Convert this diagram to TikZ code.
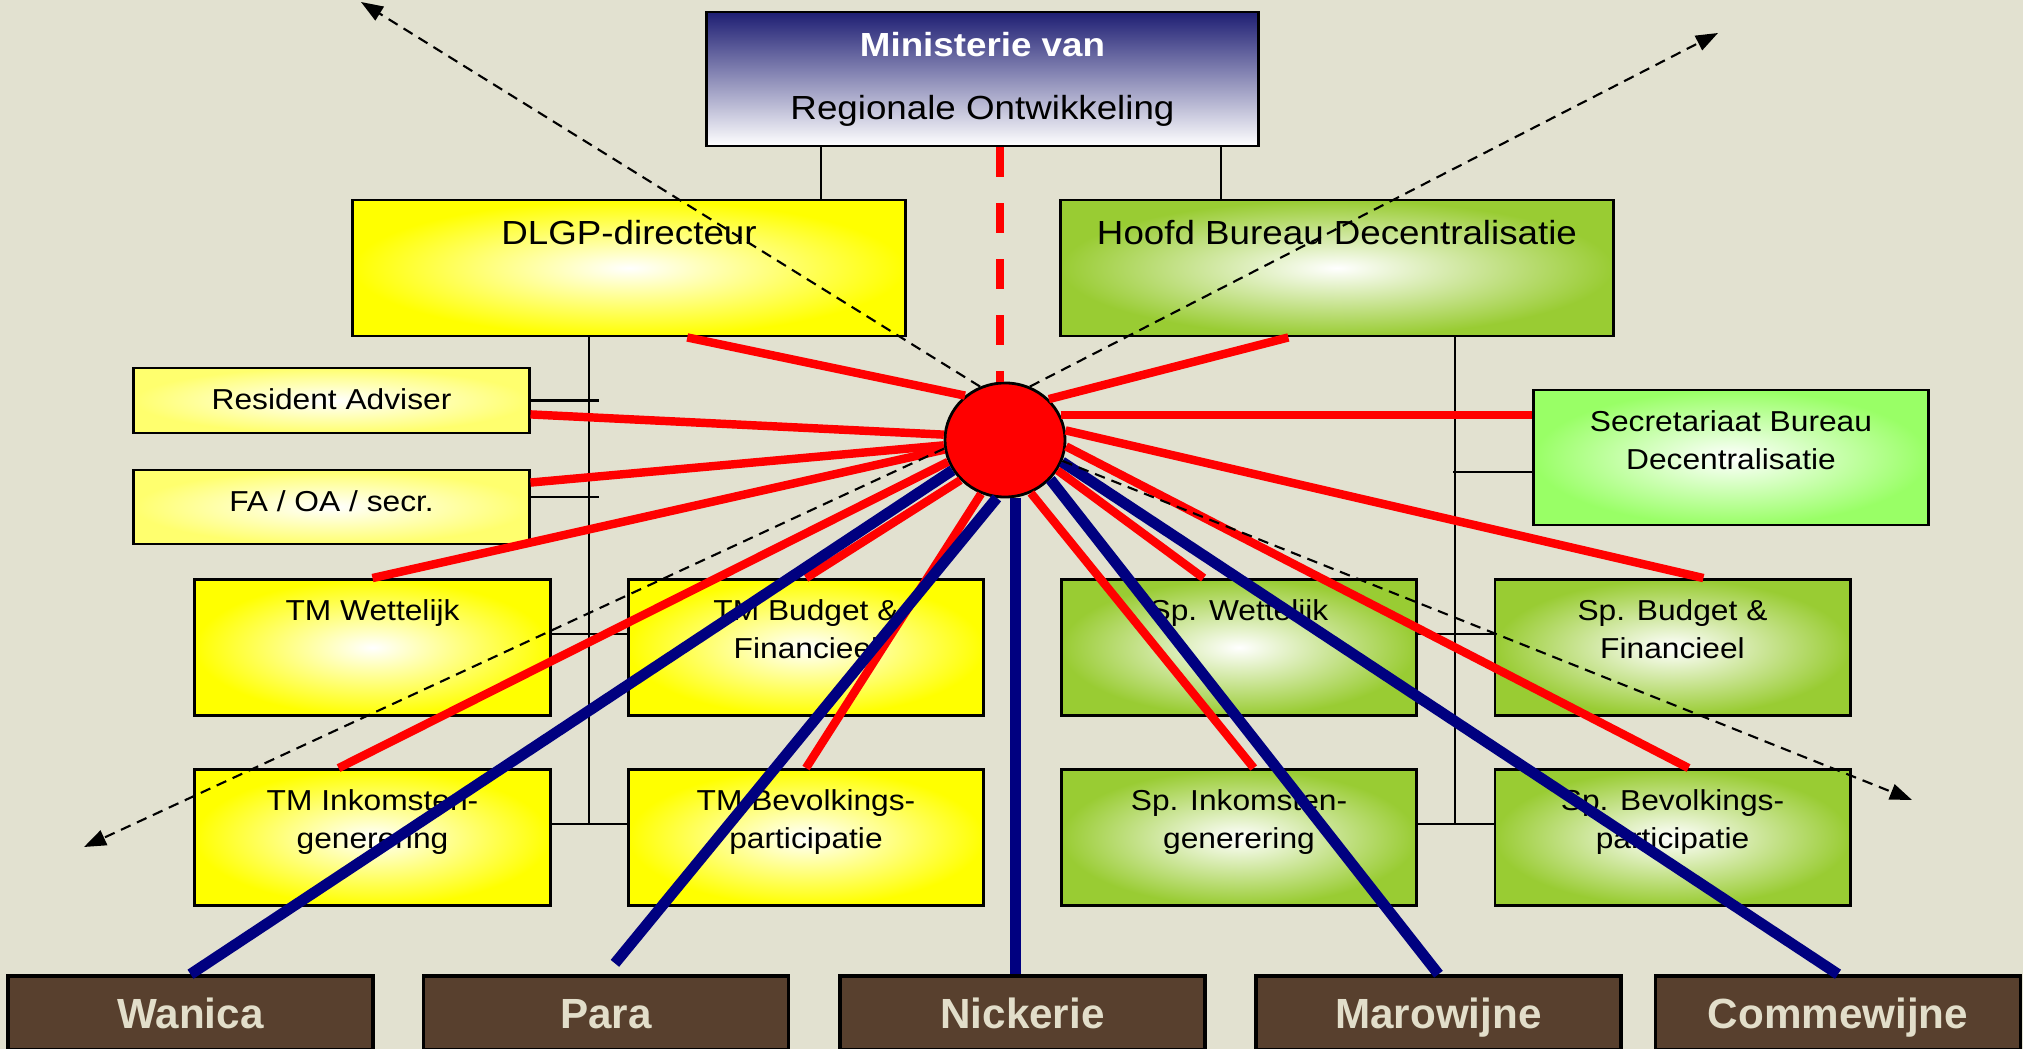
\documentclass[tikz,border=0pt]{standalone}
\usepackage{fontspec}
\setmainfont{Liberation Sans}[FakeStretch=1.1]
\newfontfamily\distfont{Liberation Sans}
\usetikzlibrary{positioning,shapes.geometric,arrows.meta}
\definecolor{bg}{RGB}{226,225,208}
\definecolor{mgreen}{RGB}{153,204,51}
\definecolor{lgreen}{RGB}{153,255,102}
\definecolor{pyellow}{RGB}{255,255,110}
\definecolor{navy}{RGB}{30,30,115}
\definecolor{soil}{RGB}{88,64,46}
\definecolor{sand}{RGB}{226,222,202}
\definecolor{spokered}{RGB}{255,0,0}
\definecolor{spokeblue}{RGB}{0,0,128}

\begin{document}
\begin{tikzpicture}[x = 0.01cm, y = -0.01cm,
    box/.style = {draw, line width = 0.8pt, rectangle, inner sep = 0pt},
    ybox/.style = {box, inner color = white, outer color = yellow},
    gbox/.style = {box, inner color = white, outer color = mgreen},
    sub/.style = {minimum width = 3.55cm, minimum height = 1.36cm},
    lbl/.style = {inner sep = 0pt, align = center, font = \fontsize{8.2}{10.8}\selectfont},
    big/.style = {lbl, font = \fontsize{9.5}{17.9}\selectfont},
    district/.style = {box, line width = 1pt, fill = soil, text = sand,
        minimum width = 3.65cm, minimum height = 0.74cm,
        text height = 8.6pt, text depth = 0pt,
        font = \distfont\bfseries\fontsize{12}{14}\selectfont},
    conn/.style = {line width = 0.6pt},
    rspoke/.style = {line width = 2.4pt, spokered},
    bspoke/.style = {line width = 3.1pt, spokeblue},
    ray/.style = {line width = 0.6pt, dash pattern = on 3pt off 2pt,
        -{Triangle[length = 2.2mm, width = 1.6mm]}}]

    \path[fill = bg, use as bounding box] (0,0) rectangle (2023,1049);

    \node[box, top color = navy, bottom color = white, minimum width = 5.51cm, minimum height = 1.34cm] (min) at (982.5,79) {};
    \node[big, below = 0.21cm of min.north] (minT) {\textcolor{white}{\bfseries Ministerie van}\\Regionale Ontwikkeling};

    \node[ybox, minimum width = 5.52cm, minimum height = 1.36cm] (dlgp) at (629,268) {};
    \node[big, below = 0.21cm of dlgp.north] (dlgpT) {DLGP-directeur};
    \node[gbox, minimum width = 5.52cm, minimum height = 1.36cm] (hbd) at (1337,268) {};
    \node[big, below = 0.21cm of hbd.north] (hbdT) {Hoofd Bureau Decentralisatie};

    \node[box, inner color = white, outer color = pyellow, minimum width = 3.95cm, minimum height = 0.65cm] (ra) at (331.5,400.5) {};
    \node[lbl, below = 0.21cm of ra.north] (raT) {Resident Adviser};
    \node[box, inner color = white, outer color = pyellow, minimum width = 3.95cm, minimum height = 0.74cm] (fa) at (331.5,507) {};
    \node[lbl, below = 0.21cm of fa.north] (faT) {FA / OA / secr.};
    \node[box, inner color = white, outer color = lgreen, minimum width = 3.94cm, minimum height = 1.35cm] (sbd) at (1731,457.5) {};
    \node[lbl, below = 0.21cm of sbd.north] (sbdT) {Secretariaat Bureau\\Decentralisatie};

    \node[ybox, sub] (tmw) at (372.5,647.5) {};
    \node[lbl, below = 0.21cm of tmw.north] (tmwT) {TM Wettelijk};
    \node[ybox, sub] (tmb) at (806,647.5) {};
    \node[lbl, below = 0.21cm of tmb.north] (tmbT) {TM Budget \&\\Financieel};
    \node[ybox, sub] (tmi) at (372.5,837.5) {};
    \node[lbl, below = 0.21cm of tmi.north] (tmiT) {TM Inkomsten-\\generering};
    \node[ybox, sub] (tmp) at (806,837.5) {};
    \node[lbl, below = 0.21cm of tmp.north] (tmpT) {TM Bevolkings-\\participatie};

    \node[gbox, sub] (spw) at (1239,647.5) {};
    \node[lbl, below = 0.21cm of spw.north] (spwT) {Sp. Wettelijk};
    \node[gbox, sub] (spb) at (1672.5,647.5) {};
    \node[lbl, below = 0.21cm of spb.north] (spbT) {Sp. Budget \&\\Financieel};
    \node[gbox, sub] (spi) at (1239,837.5) {};
    \node[lbl, below = 0.21cm of spi.north] (spiT) {Sp. Inkomsten-\\generering};
    \node[gbox, sub] (spp) at (1672.5,837.5) {};
    \node[lbl, below = 0.21cm of spp.north] (sppT) {Sp. Bevolkings-\\participatie};

    \node[district] (wan) at (190.5,1013) {Wanica};
    \node[district] (para) at (606,1013) {Para};
    \node[district] (nick) at (1022.5,1013) {Nickerie};
    \node[district] (maro) at (1438.5,1013) {Marowijne};
    \node[district] (comm) at (1838,1013) {Commewijne};

    \node[ellipse, draw, line width = 0.8pt, fill = red, inner sep = 0pt,
        minimum width = 1.2cm, minimum height = 1.14cm] (hub) at (1005,440) {};

    \draw[conn] (min.203) -- (min.203 |- dlgp.north);
    \draw[conn] (min.-16) -- (min.-16 |- hbd.north);
    \draw[rspoke, dash pattern = on 8.5pt off 7.4pt] (min.south -| hub.95) -- (hub.95);

    \draw[conn] ([xshift = -0.4cm]dlgp.south) -- ++(0,488);
    \draw[conn] (ra.east) -- ++(68,0);
    \draw[conn] ([yshift = 0.1cm]fa.east) -- ++(68,0);
    \draw[conn] ([yshift = 0.135cm]tmw.east) -- ([yshift = 0.135cm]tmb.west);
    \draw[conn] ([yshift = 0.135cm]tmi.east) -- ([yshift = 0.135cm]tmp.west);
    \draw[conn] ([xshift = 1.18cm]hbd.south) -- ++(0,488);
    \draw[conn] ([yshift = -0.145cm]sbd.west) -- ++(-79,0);
    \draw[conn] ([yshift = 0.135cm]spw.east) -- ([yshift = 0.135cm]spb.west);
    \draw[conn] ([yshift = 0.135cm]spi.east) -- ([yshift = 0.135cm]spp.west);

    \draw[rspoke] (hub.132) -- (dlgp.-50);
    \draw[rspoke] (hub.43) -- (hbd.-125);
    \draw[rspoke] (hub.175) -- (ra.-4);
    \draw[rspoke] (hub.185) -- (fa.7);
    \draw[rspoke] (hub.189) -- (tmw.north);
    \draw[rspoke] (hub.201) -- (tmi.116);
    \draw[rspoke] (hub.222) -- (tmb.north);
    \draw[rspoke] (hub.246) -- (tmp.north);
    \draw[rspoke] (hub.-64) -- (spi.78);
    \draw[rspoke] (hub.-30) -- (spw.117);
    \draw[rspoke] (hub.-6) -- (spp.77);
    \draw[rspoke] (hub.9) -- (spb.66);
    \draw[rspoke] (hub.24) -- (hub.24 -| sbd.west);

    \draw[bspoke] (hub.210) -- (wan.north);
    \draw[bspoke, shorten > = 4pt] (hub.262) -- (para.north);
    \draw[bspoke] (hub.-80) -- (hub.-80 |- nick.north);
    \draw[bspoke] (hub.-41) -- (maro.north);
    \draw[bspoke] (hub.-21) -- (comm.north);

    \coordinate (nw) at (361,2);
    \coordinate (ne) at (1718,33);
    \coordinate (sw) at (84,847);
    \coordinate (se) at (1912,800);
    \draw[ray] (hub.115) -- (nw);
    \draw[ray] (hub.65) -- (ne);
    \draw[ray] (hub.188) -- (sw);
    \draw[ray] (hub.-20) -- (se);
\end{tikzpicture}
\end{document}
